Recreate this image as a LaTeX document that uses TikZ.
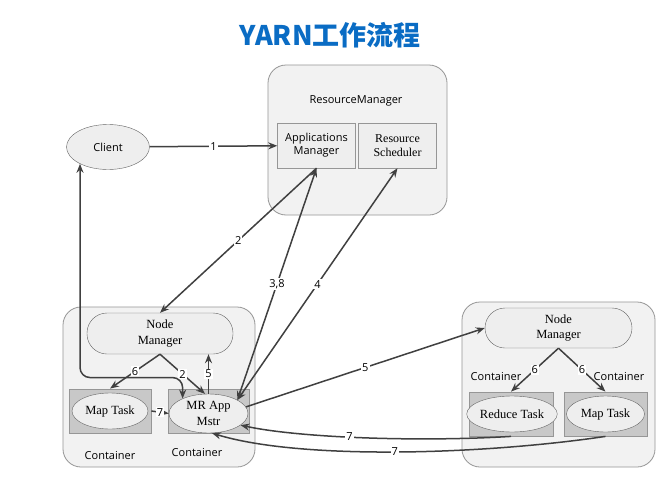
\documentclass[tikz,border=0pt]{standalone}
\usepackage{fontspec}
\setmainfont{Liberation Serif}
\setsansfont{Open Sans}
\newfontfamily\titlefont{Noto Sans CJK SC}
\usepackage{tikz}
\usetikzlibrary{positioning}
\usetikzlibrary{arrows.meta, shapes, calc}

\definecolor{boxline}{RGB}{150,150,150}
\definecolor{groupfill}{RGB}{242,242,242}
\definecolor{mgrfill}{RGB}{238,238,238}
\definecolor{cntfill}{RGB}{200,200,200}
\definecolor{ellline}{RGB}{100,100,100}
\definecolor{arrowcol}{RGB}{64,64,64}
\definecolor{titleblue}{RGB}{10,108,196}

\begin{document}
\begin{tikzpicture}[x=1pt, y=-1pt, >={Stealth[length=9pt,width=7pt]},
    every node/.style={font=\sffamily\fontsize{11}{13}\selectfont},
    serif/.style={font=\rmfamily\fontsize{12.5}{15.5}\selectfont},
    groupbox/.style={draw=boxline, fill=groupfill, rounded corners=18pt, line width=0.8pt},
    mgrbox/.style={draw=boxline, fill=mgrfill, minimum width=78pt, minimum height=45pt, align=center, inner sep=1pt},
    nmbox/.style={draw=ellline, fill=mgrfill, rounded corners=20pt, minimum width=146pt, minimum height=41pt, align=center, serif},
    cntbox/.style={draw=boxline, fill=cntfill, minimum width=82pt, minimum height=44pt, line width=0.8pt},
    taskell/.style={ellipse, draw=ellline, fill=mgrfill, inner sep=0pt, align=center, serif},
    flow/.style={->, line width=1.5pt, draw=arrowcol},
    lbl/.style={fill=white, inner sep=1pt, font=\sffamily\fontsize{11}{13}\selectfont}]
    \useasboundingbox[fill=white] (0,0) rectangle (670,482);

    % Title
    \node[text=titleblue, font=\titlefont\bfseries\fontsize{27}{30}\selectfont] (title) at (330,35) {YARN工作流程};

    % ResourceManager
    \node[groupbox, minimum width=179pt, minimum height=150pt] (rmbox) at (357.5,140) {};
    \node (rmtext) at (356,101) {ResourceManager};
    \node[mgrbox] (am) at (316.5,145.5) {Applications\\Manager};
    \node[mgrbox, serif, font=\rmfamily\fontsize{12}{14.5}\selectfont] (rs) at (397.5,145.5) {Resource\\Scheduler};

    % Client
    \node[ellipse, draw=ellline, fill=mgrfill, minimum width=83pt, minimum height=45pt, inner sep=0pt] (client) at (108,147) {Client};

    % Left node
    \node[groupbox, minimum width=192pt, minimum height=160pt] (leftbox) at (159,387) {};
    \node[nmbox] (nm1) at (160,333.5) {Node\\Manager};
    \node[cntbox] (ct1) at (110,411) {};
    \node[taskell, minimum width=76pt, minimum height=36pt] (mt1) at (110,411) {Map Task};
    \node[cntbox, minimum width=81pt] (ct2) at (208.5,411) {};
    \node[taskell, minimum width=79pt, minimum height=39pt] (mr) at (208.5,413.5) {MR App\\Mstr};
    \node (cl1) at (110,456) {Container};
    \node (cl2) at (197,453) {Container};

    % Right node
    \node[groupbox, minimum width=193pt, minimum height=165pt] (rightbox) at (558.5,384.5) {};
    \node[nmbox, minimum width=147pt, minimum height=40pt] (nm2) at (558.5,328) {Node\\Manager};
    \node[cntbox, minimum width=84pt] (ct3) at (511,414) {};
    \node[taskell, minimum width=80pt, minimum height=36pt] (rt) at (512,414) {Reduce Task};
    \node[cntbox, minimum width=83pt] (ct4) at (605.5,414) {};
    \node[taskell, minimum width=78pt, minimum height=36pt] (mt2) at (605.5,414) {Map Task};
    \node (cl3) at (496,377) {Container};
    \node (cl4) at (619,377) {Container};

    % Arrows
    \draw[flow] (client) -- node[lbl] {1} (am);
    \draw[flow] (am.south) -- node[lbl] {2} (nm1.north);
    \draw[flow, <->] (am.south) -- node[lbl] {3,8} (mr.25);
    \draw[flow, <->] (rs.south) -- node[lbl] {4} (mr.25);
    \draw[flow] (mr.10) -- node[lbl] {5} (nm2.west);
    \draw[flow] (nm1.south) -- node[lbl] {6} (ct1.north);
    \draw[flow] (nm1.south) -- node[lbl] {2} (mr.100);
    \draw[flow] (mr.north) -- node[lbl] {5} (mr.north |- nm1.south);
    \draw[flow] (ct1.east) -- node[lbl] {7} (mr.west);
    \draw[flow] (nm2.south) -- node[lbl] {6} (ct3.north);
    \draw[flow] (nm2.south) -- node[lbl] {6} (ct4.north);
    \coordinate (cl) at ($(mr.150)+(0,-21)$);
    \draw[flow, <->, rounded corners=10pt] (client.211) |- (cl) -- (mr.150);
    \draw[flow] (ct3.south) .. controls (420,442) and (300,438) .. node[lbl, pos=0.55] {7} (mr.-20);
    \draw[flow] (ct4.south) .. controls (480,455) and (300,460) .. node[lbl, pos=0.5] {7} (mr.-80);
\end{tikzpicture}
\end{document}
